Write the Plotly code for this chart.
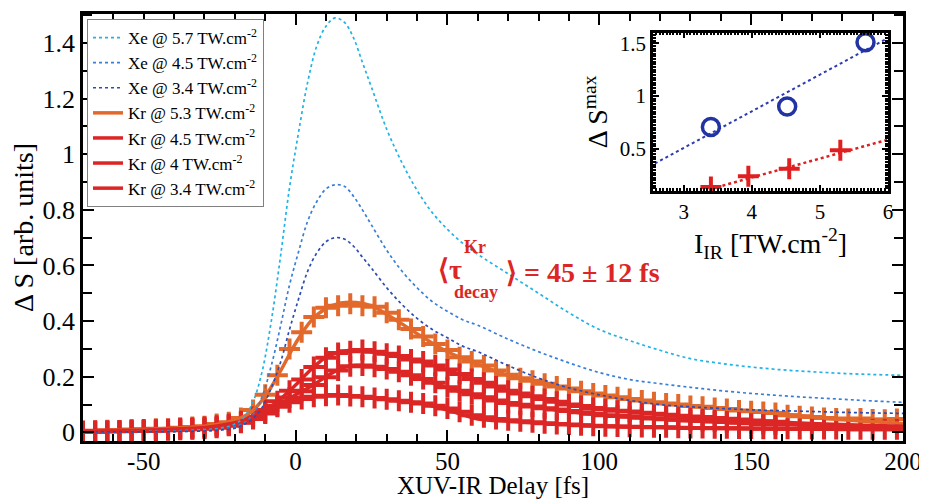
import numpy as np
import plotly.graph_objects as go

# ---------------- data ----------------
xe_delay = [-70, -60, -50, -40, -30, -25, -20, -17, -14, -11, -8, -5, -2, 1, 4, 7, 10, 13, 16, 19, 22, 25,
            30, 35, 40, 45, 50, 55, 60, 70, 80, 90, 100, 110, 120, 130, 140, 150, 160, 170, 180, 190, 200]
xe_57 = [0.002, 0.002, 0.003, 0.005, 0.010, 0.015, 0.030, 0.055, 0.110, 0.220, 0.400, 0.630, 0.880, 1.080,
         1.260, 1.390, 1.460, 1.490, 1.475, 1.420, 1.330, 1.240, 1.090, 0.970, 0.870, 0.790, 0.730, 0.680,
         0.640, 0.570, 0.500, 0.430, 0.370, 0.330, 0.295, 0.265, 0.248, 0.235, 0.225, 0.218, 0.212, 0.208, 0.205]
xe_45 = [0.002, 0.002, 0.002, 0.003, 0.006, 0.010, 0.020, 0.035, 0.065, 0.130, 0.240, 0.380, 0.530, 0.650,
         0.760, 0.830, 0.875, 0.890, 0.885, 0.850, 0.800, 0.745, 0.655, 0.580, 0.520, 0.470, 0.435, 0.405,
         0.385, 0.335, 0.290, 0.250, 0.215, 0.190, 0.175, 0.162, 0.150, 0.140, 0.132, 0.125, 0.119, 0.113, 0.108]
xe_34 = [0.002, 0.002, 0.002, 0.003, 0.005, 0.008, 0.015, 0.028, 0.050, 0.090, 0.160, 0.250, 0.370, 0.480,
         0.580, 0.645, 0.685, 0.700, 0.695, 0.670, 0.630, 0.590, 0.520, 0.460, 0.410, 0.370, 0.340, 0.310,
         0.290, 0.240, 0.195, 0.160, 0.135, 0.115, 0.100, 0.092, 0.086, 0.081, 0.078, 0.075, 0.072, 0.070, 0.068]

kr_fit_delay = [-70, -60, -50, -40, -30, -25, -20, -15, -10, -5, 0, 5, 10, 15, 20, 25, 30, 35, 40, 50, 60,
                70, 80, 90, 100, 110, 120, 130, 140, 150, 160, 170, 180, 190, 200]
kr_53_fit = [0.005, 0.007, 0.010, 0.015, 0.022, 0.030, 0.045, 0.070, 0.130, 0.220, 0.320, 0.400, 0.445,
             0.465, 0.467, 0.455, 0.425, 0.390, 0.355, 0.290, 0.245, 0.205, 0.180, 0.155, 0.135, 0.120,
             0.105, 0.095, 0.085, 0.075, 0.067, 0.055, 0.045, 0.038, 0.032]
kr_45_fit = [0.004, 0.005, 0.008, 0.012, 0.018, 0.025, 0.035, 0.050, 0.080, 0.120, 0.170, 0.225, 0.270,
             0.290, 0.295, 0.290, 0.280, 0.270, 0.258, 0.225, 0.185, 0.150, 0.125, 0.100, 0.085, 0.075,
             0.065, 0.057, 0.050, 0.043, 0.037, 0.032, 0.028, 0.025, 0.022]
kr_40_fit = [0.003, 0.004, 0.006, 0.010, 0.015, 0.020, 0.030, 0.045, 0.070, 0.100, 0.135, 0.165, 0.200,
             0.230, 0.240, 0.238, 0.228, 0.215, 0.198, 0.160, 0.130, 0.105, 0.090, 0.075, 0.063, 0.055,
             0.048, 0.042, 0.037, 0.032, 0.028, 0.025, 0.022, 0.020, 0.018]
kr_34_fit = [0.003, 0.004, 0.005, 0.008, 0.013, 0.018, 0.028, 0.045, 0.070, 0.095, 0.115, 0.127, 0.132,
             0.133, 0.130, 0.125, 0.118, 0.112, 0.106, 0.080, 0.048, 0.040, 0.034, 0.028, 0.023, 0.020,
             0.018, 0.016, 0.015, 0.014, 0.013, 0.012, 0.012, 0.011, 0.011]

kr_pts_delay = np.arange(-70, 199, 4)
kr_53_pts = [0.005, 0.004, 0.008, 0.006, 0.010, 0.008, 0.013, 0.012, 0.017, 0.019, 0.022, 0.030, 0.036,
             0.052, 0.080, 0.135, 0.205, 0.300, 0.360, 0.415, 0.448, 0.455, 0.462, 0.455, 0.452, 0.430,
             0.405, 0.372, 0.345, 0.318, 0.296, 0.270, 0.255, 0.240, 0.222, 0.207, 0.195, 0.186, 0.175,
             0.165, 0.158, 0.148, 0.140, 0.133, 0.126, 0.120, 0.115, 0.108, 0.104, 0.100, 0.095, 0.092,
             0.088, 0.084, 0.079, 0.076, 0.073, 0.070, 0.062, 0.058, 0.055, 0.052, 0.050, 0.048, 0.050,
             0.046, 0.045, 0.048]
kr_45_pts = [0.004, 0.006, 0.005, 0.007, 0.008, 0.010, 0.009, 0.012, 0.014, 0.016, 0.019, 0.024, 0.030,
             0.040, 0.055, 0.080, 0.112, 0.150, 0.190, 0.235, 0.268, 0.285, 0.292, 0.296, 0.290, 0.283,
             0.275, 0.262, 0.255, 0.240, 0.226, 0.210, 0.192, 0.178, 0.165, 0.150, 0.140, 0.130, 0.120,
             0.110, 0.100, 0.095, 0.088, 0.083, 0.078, 0.075, 0.071, 0.067, 0.063, 0.060, 0.057, 0.055,
             0.052, 0.049, 0.046, 0.043, 0.040, 0.038]
kr_40_pts = [0.003, 0.004, 0.004, 0.005, 0.006, 0.007, 0.008, 0.010, 0.011, 0.013, 0.016, 0.019, 0.026,
             0.035, 0.048, 0.068, 0.095, 0.125, 0.148, 0.170, 0.198, 0.222, 0.238, 0.240, 0.236, 0.228,
             0.218, 0.205, 0.192, 0.178, 0.162, 0.150, 0.137, 0.126, 0.115, 0.106, 0.099, 0.093, 0.087,
             0.082, 0.077, 0.072, 0.067, 0.062, 0.059, 0.056, 0.053, 0.050, 0.047, 0.045, 0.043, 0.041,
             0.039, 0.037, 0.035, 0.033, 0.030, 0.028]
kr_34_pts = [0.003, 0.002, 0.004, 0.004, 0.005, 0.006, 0.006, 0.008, 0.009, 0.011, 0.013, 0.017, 0.024,
             0.036, 0.050, 0.070, 0.092, 0.108, 0.120, 0.128, 0.132, 0.134, 0.131, 0.128, 0.124, 0.119,
             0.114, 0.108, 0.104, 0.096, 0.086, 0.074, 0.062, 0.054, 0.048, 0.044, 0.040, 0.036, 0.033,
             0.030, 0.028, 0.026, 0.024, 0.022, 0.021, 0.020, 0.019, 0.018, 0.018, 0.017, 0.016, 0.016,
             0.015, 0.015, 0.014, 0.014, 0.013, 0.013, 0.013, 0.012, 0.012, 0.012, 0.012, 0.011, 0.011,
             0.011, 0.011, 0.011]

# inset data
xe_intensity = [3.4, 4.52, 5.67]
xe_smax = [0.707, 0.90, 1.51]
kr_intensity = [3.4, 3.95, 4.55, 5.3]
kr_smax = [0.139, 0.24, 0.31, 0.485]
xe_fit_I = [2.5, 6.0]
xe_fit_S = [0.334, 1.55]
kr_fit_I = [3.4, 6.0]
kr_fit_S = [0.12, 0.587]

x_tickvals = [-50, 0, 50, 100, 150, 200]
x_ticktext = ["-50", "0", "50", "100", "150", "200"]
y_tickvals = [0, 0.2, 0.4, 0.6, 0.8, 1.0, 1.2, 1.4]
y_ticktext = ["0", "0.2", "0.4", "0.6", "0.8", "1", "1.2", "1.4"]
inset_x_tickvals = [3, 4, 5, 6]
inset_y_tickvals = [0.5, 1, 1.5]
inset_y_ticktext = ["0.5", "1", "1.5"]

legend_names = {
    "xe57": "Xe @ 5.7 TW.cm<sup>-2</sup>",
    "xe45": "Xe @ 4.5 TW.cm<sup>-2</sup>",
    "xe34": "Xe @ 3.4 TW.cm<sup>-2</sup>",
    "kr53": "Kr @ 5.3 TW.cm<sup>-2</sup>",
    "kr45": "Kr @ 4.5 TW.cm<sup>-2</sup>",
    "kr40": "Kr @ 4 TW.cm<sup>-2</sup>",
    "kr34": "Kr @ 3.4 TW.cm<sup>-2</sup>",
}

# ---------------- style ----------------
FONT = "Liberation Serif, Times New Roman, serif"
C_XE57 = "#21B2E6"
C_XE45 = "#3A7FD6"
C_XE34 = "#2B4DB3"
C_ORANGE = "#E2692B"
C_RED = "#DC2626"

fig = go.Figure()

# Kr markers
for d, vals, col in [(kr_pts_delay, kr_53_pts, C_ORANGE), (kr_pts_delay, kr_45_pts, C_RED),
                     (kr_pts_delay, kr_40_pts, C_RED), (kr_pts_delay, kr_34_pts, C_RED)]:
    fig.add_trace(go.Scatter(x=d[:len(vals)], y=vals, mode="markers", showlegend=False,
                             marker=dict(symbol="cross-thin", size=15, color=col,
                                         line=dict(color=col, width=4)),
                             hoverinfo="skip"))

# Kr fit lines
for i, (vals, col, key) in enumerate([(kr_53_fit, C_ORANGE, "kr53"), (kr_45_fit, C_RED, "kr45"),
                                       (kr_40_fit, C_RED, "kr40"), (kr_34_fit, C_RED, "kr34")]):
    fig.add_trace(go.Scatter(x=kr_fit_delay, y=vals, mode="lines", name=legend_names[key],
                             legendrank=10 + i,
                             line=dict(color=col, width=3.5, shape="spline")))

# Xe lines
for i, (vals, col, key) in enumerate([(xe_57, C_XE57, "xe57"), (xe_45, C_XE45, "xe45"),
                                       (xe_34, C_XE34, "xe34")]):
    fig.add_trace(go.Scatter(x=xe_delay, y=vals, mode="lines", name=legend_names[key],
                             legendrank=1 + i,
                             line=dict(color=col, width=1.7, dash="dot", shape="spline")))

# inset
fig.add_trace(go.Scatter(x=xe_fit_I, y=xe_fit_S, mode="lines", xaxis="x2", yaxis="y2", showlegend=False,
                         line=dict(color="#2B3BB0", width=2, dash="dot")))
fig.add_trace(go.Scatter(x=kr_fit_I, y=kr_fit_S, mode="lines", xaxis="x2", yaxis="y2", showlegend=False,
                         line=dict(color="#E02020", width=2.5, dash="dot")))
fig.add_trace(go.Scatter(x=xe_intensity, y=xe_smax, mode="markers", xaxis="x2", yaxis="y2",
                         showlegend=False,
                         marker=dict(symbol="circle-open", size=17, color="#2233A3",
                                     line=dict(color="#2233A3", width=3.5))))
fig.add_trace(go.Scatter(x=kr_intensity, y=kr_smax, mode="markers", xaxis="x2", yaxis="y2",
                         showlegend=False,
                         marker=dict(symbol="cross-thin", size=15, color="#E02020",
                                     line=dict(color="#E02020", width=4))))

# page body has an 8px margin: size the figure so that it fills the 927x501 window
OFF = 8
W, H = 927 - OFF, 501 - OFF
ML, MT = 83 - OFF, 14 - OFF
PLOT_R, PLOT_B = 903 - OFF, 441 - OFF
MR, MB = W - PLOT_R, H - PLOT_B
PW, PH = W - ML - MR, H - MT - MB


def px(x):  # screen pixel -> paper fraction
    return (x - OFF - ML) / PW


def py(y):
    return (PLOT_B - (y - OFF)) / PH


axis_common = dict(showline=True, linecolor="black", linewidth=2.5, mirror="allticks",
                   ticks="inside", tickcolor="black", showgrid=False, zeroline=False,
                   automargin=False)

fig.update_layout(
    width=W, height=H,
    margin=dict(l=ML, r=MR, t=MT, b=MB, autoexpand=False),
    paper_bgcolor="white", plot_bgcolor="white",
    font=dict(family=FONT, color="black"),
    xaxis=dict(range=[-70, 200], tickvals=x_tickvals, ticktext=x_ticktext, ticklen=11, tickwidth=2,
               tickfont=dict(size=25, family=FONT), ticklabelstandoff=-4,
               minor=dict(dtick=10, tick0=0, ticklen=7, tickwidth=2, ticks="inside", tickcolor="black"),
               **axis_common),
    yaxis=dict(range=[-0.031, 1.504], tickvals=y_tickvals, ticktext=y_ticktext, ticklen=11, tickwidth=2,
               tickfont=dict(size=26, family=FONT),
               minor=dict(dtick=0.1, tick0=0, ticklen=9, tickwidth=2, ticks="inside", tickcolor="black"),
               title=dict(text="Δ S [arb. units]", font=dict(size=28, family=FONT), standoff=3),
               **axis_common),
    xaxis2=dict(domain=[px(653), px(888)], anchor="y2", range=[2.55, 6], tickvals=inset_x_tickvals,
                ticklen=6, tickwidth=2, tickfont=dict(size=21, family=FONT),
                minor=dict(dtick=0.05, tick0=0, ticklen=3, tickwidth=1.5, ticks="inside", tickcolor="black"),
                title=dict(text="I<sub>IR</sub> [TW.cm<sup>-2</sup>]", font=dict(size=28, family=FONT),
                           standoff=4),
                **axis_common),
    yaxis2=dict(domain=[py(191), py(32.7)], anchor="x2", range=[0.1, 1.6], tickvals=inset_y_tickvals,
                ticktext=inset_y_ticktext, ticklen=6, tickwidth=2, tickfont=dict(size=21, family=FONT),
                minor=dict(dtick=0.025, tick0=0, ticklen=3, tickwidth=1.5, ticks="inside", tickcolor="black"),
                title=dict(text="Δ S<sup>max</sup>", font=dict(size=28, family=FONT), standoff=4),
                **axis_common),
    legend=dict(x=px(87), y=py(19), xanchor="left", yanchor="top", bgcolor="white",
                bordercolor="#808080", borderwidth=1, font=dict(size=17, family=FONT),
                tracegroupgap=0, itemwidth=30),
    showlegend=True,
)

# x-axis title (placed as text below the tick labels)
fig.add_annotation(x=0.5, y=py(486), xref="paper", yref="paper", xanchor="center", yanchor="middle",
                   text="XUV-IR Delay [fs]", showarrow=False, borderpad=0,
                   font=dict(size=25, family=FONT, color="black"))

ann_font_big = dict(size=28, family=FONT, color=C_RED, weight="bold")
ann_font_small = dict(size=18, family=FONT, color=C_RED, weight="bold")
fig.add_annotation(x=px(436), y=py(269), xref="paper", yref="paper", xanchor="left", yanchor="middle",
                   text="<b>⟨τ</b>", showarrow=False, font=ann_font_big)
fig.add_annotation(x=px(462), y=py(247), xref="paper", yref="paper", xanchor="left", yanchor="middle",
                   text="<b>Kr</b>", showarrow=False, font=ann_font_small)
fig.add_annotation(x=px(452), y=py(292), xref="paper", yref="paper", xanchor="left", yanchor="middle",
                   text="<b>decay</b>", showarrow=False, font=ann_font_small)
fig.add_annotation(x=px(504), y=py(272), xref="paper", yref="paper", xanchor="left", yanchor="middle",
                   text="<b>⟩ = 45 ± 12 fs</b>", showarrow=False, font=ann_font_big)

fig.write_html("out.html")
